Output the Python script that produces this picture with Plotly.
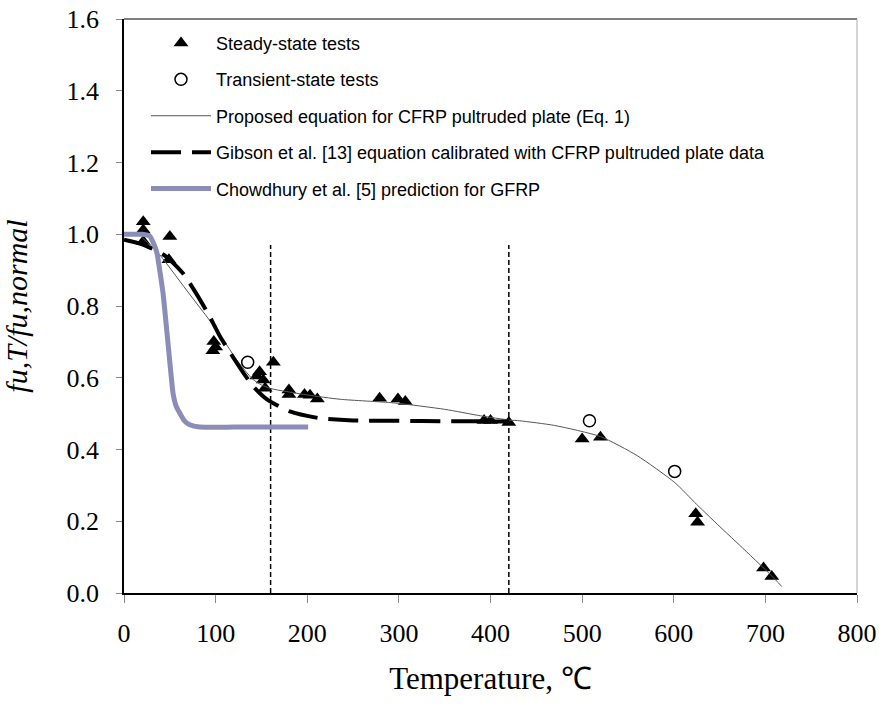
import plotly.graph_objects as go

# ---- data ----
steady_T = [21, 21, 21, 50, 49, 98, 100, 97, 145, 148, 152, 154, 163, 180, 180, 197, 203, 211,
            279, 299, 307, 393, 400, 420, 500, 520, 624, 626, 698, 707]
steady_R = [1.035, 1.012, 0.980, 0.994, 0.929, 0.701, 0.686, 0.675, 0.605, 0.617, 0.594, 0.571, 0.643, 0.566, 0.553, 0.553, 0.551, 0.541,
            0.543, 0.541, 0.534, 0.481, 0.481, 0.475, 0.429, 0.434, 0.221, 0.197, 0.070, 0.046]

transient_T = [135, 508, 601]
transient_R = [0.643, 0.480, 0.339]

proposed_T = [20, 36, 68, 101, 123, 140, 150, 160, 200, 236, 294, 350, 389, 421, 432, 470, 520, 560, 601, 625, 654, 672, 706, 718]
proposed_R = [0.990, 0.952, 0.845, 0.734, 0.650, 0.597, 0.580, 0.570, 0.552, 0.540, 0.530, 0.512, 0.494, 0.482, 0.480, 0.467, 0.436, 0.383, 0.308, 0.247, 0.176, 0.133, 0.050, 0.018]

gibson_T = [0, 20, 45, 65, 90, 105, 115, 127, 141, 156, 181, 214, 250, 300, 350, 420]
gibson_R = [0.985, 0.972, 0.940, 0.889, 0.787, 0.714, 0.673, 0.626, 0.576, 0.540, 0.506, 0.487, 0.481, 0.480, 0.479, 0.478]

chowdhury_T = [0, 20, 28, 33, 36, 42.6, 48, 53.5, 57, 60.8, 66, 71.7, 82.6, 120, 201]
chowdhury_R = [1.000, 1.000, 0.995, 0.970, 0.947, 0.836, 0.697, 0.557, 0.520, 0.502, 0.480, 0.469, 0.4625, 0.4625, 0.4625]

boundary_T = [160, 420]
boundary_top = 0.97

x_ticks = [0, 100, 200, 300, 400, 500, 600, 700, 800]
y_ticks = [0.0, 0.2, 0.4, 0.6, 0.8, 1.0, 1.2, 1.4, 1.6]

serif = "Liberation Serif, Times New Roman, serif"
sans = "Liberation Sans, Arial, sans-serif"

fig = go.Figure()

for t in boundary_T:
    fig.add_trace(go.Scatter(x=[t, t], y=[0, boundary_top], mode="lines",
                             line=dict(color="black", width=1.5, dash="5px,3px"),
                             showlegend=False, hoverinfo="skip", legendgroup="z"))

fig.add_trace(go.Scatter(x=steady_T, y=steady_R, mode="markers", name="Steady-state tests",
                         marker=dict(symbol="triangle-up", size=13, color="black"),
                         legendgroup="a"))
fig.add_trace(go.Scatter(x=transient_T, y=transient_R, mode="markers", name="Transient-state tests",
                         marker=dict(symbol="circle-open", size=12, color="black", line=dict(width=1.5)),
                         legendgroup="b"))
fig.add_trace(go.Scatter(x=proposed_T, y=proposed_R, mode="lines",
                         name="Proposed equation for CFRP pultruded plate (Eq. 1)",
                         line=dict(color="#555555", width=1, shape="spline", smoothing=0.6),
                         legendgroup="c"))
fig.add_trace(go.Scatter(x=gibson_T, y=gibson_R, mode="lines",
                         name="Gibson et al. [13] equation calibrated with CFRP pultruded plate data",
                         line=dict(color="black", width=4, dash="30px,11px", shape="spline", smoothing=0.6),
                         legendgroup="d"))
fig.add_trace(go.Scatter(x=chowdhury_T, y=chowdhury_R, mode="lines",
                         name="Chowdhury et al. [5] prediction for GFRP",
                         line=dict(color="#8c8cb8", width=5, shape="spline", smoothing=0.4),
                         legendgroup="e"))

fig.update_layout(
    width=882, height=713,
    margin=dict(l=124, r=25, t=19, b=120),
    paper_bgcolor="white", plot_bgcolor="white",
    showlegend=True,
    legend=dict(x=0.03, y=0.99, xanchor="left", yanchor="top",
                font=dict(family=sans, size=18, color="black"),
                bgcolor="rgba(0,0,0,0)", tracegroupgap=10, itemwidth=60,
                traceorder="grouped"),
    xaxis=dict(range=[0, 800], tickvals=x_ticks, ticks="outside", ticklen=8, tickcolor="#888",
               showline=True, linecolor="black", linewidth=1.5, showgrid=False, zeroline=False,
               automargin=False, ticklabelstandoff=8, ticklabeloverflow="allow",
               tickfont=dict(family=serif, size=26, color="black"),
               title=dict(text="Temperature, ℃", font=dict(family=serif, size=31, color="black"), standoff=20)),
    yaxis=dict(range=[0, 1.6], tickvals=y_ticks, tickformat=".1f", ticks="outside", ticklen=6, tickcolor="#888",
               showline=True, linecolor="black", linewidth=1.5, showgrid=False, zeroline=False,
               automargin=False, ticklabelstandoff=12, ticklabeloverflow="allow",
               tickfont=dict(family=serif, size=26, color="black"),
               title=dict(text="<i>fu,T/fu,normal</i>", font=dict(family=serif, size=30, color="black"), standoff=40)),
    shapes=[
        dict(type="line", xref="paper", yref="paper", x0=0, x1=1, y0=1, y1=1, line=dict(color="#555", width=1.5)),
        dict(type="line", xref="paper", yref="paper", x0=1, x1=1, y0=0, y1=1, line=dict(color="#aaa", width=1)),
    ],
)

fig.write_html("out.html", config={"displayModeBar": False},
               post_script="document.body.style.margin='0';")
